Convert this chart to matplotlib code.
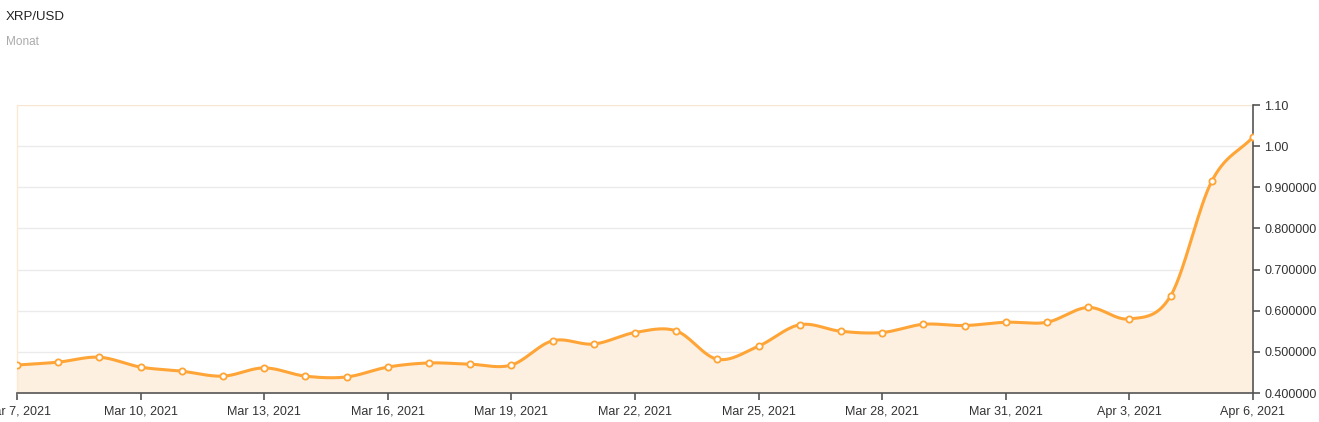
import numpy as np
import matplotlib
matplotlib.use("Agg")
import matplotlib.pyplot as plt
import datetime as dt

plt.rcParams['font.family'] = ['Liberation Sans', 'DejaVu Sans']

start = dt.date(2021, 3, 7)
dates = [start + dt.timedelta(days=i) for i in range(31)]
prices = [0.468, 0.475, 0.487, 0.463, 0.453, 0.441, 0.461, 0.441, 0.439, 0.463,
          0.473, 0.470, 0.468, 0.527, 0.519, 0.547, 0.551, 0.482, 0.514, 0.566,
          0.550, 0.547, 0.567, 0.564, 0.572, 0.572, 0.608, 0.580, 0.636, 0.915,
          1.022]
y_ticks = [0.4, 0.5, 0.6, 0.7, 0.8, 0.9, 1.0, 1.1]
y_tick_labels = ["0.400000", "0.500000", "0.600000", "0.700000", "0.800000",
                 "0.900000", "1.00", "1.10"]
x_tick_step = 3

x = np.array([(d - start).days for d in dates], dtype=float)
y = np.array(prices)

def catmull_rom(xs, ys, n=30):
    px = np.concatenate([[2 * xs[0] - xs[1]], xs, [2 * xs[-1] - xs[-2]]])
    py = np.concatenate([[2 * ys[0] - ys[1]], ys, [2 * ys[-1] - ys[-2]]])
    ox, oy = [], []
    for i in range(1, len(px) - 2):
        t = np.linspace(0, 1, n, endpoint=False)
        for arr, out in ((px, ox), (py, oy)):
            p0, p1, p2, p3 = arr[i - 1], arr[i], arr[i + 1], arr[i + 2]
            out.extend(0.5 * ((2 * p1) + (-p0 + p2) * t +
                              (2 * p0 - 5 * p1 + 4 * p2 - p3) * t ** 2 +
                              (-p0 + 3 * p1 - 3 * p2 + p3) * t ** 3))
    ox.append(xs[-1]); oy.append(ys[-1])
    return np.array(ox), np.array(oy)

sx, sy = catmull_rom(x, y)

W, H = 1319, 422
fig = plt.figure(figsize=(W / 100, H / 100), dpi=100)
ax = fig.add_axes([17 / W, (H - 393) / H, (1253 - 17) / W, (393 - 105) / H])

line_color = '#ffa537'
ax.fill_between(sx, 0.4, sy, color='#fdf0e0', lw=0, zorder=1)
ax.plot(sx, sy, color=line_color, lw=2.2, zorder=3, solid_capstyle='round')
ax.plot(x, y, 'o', ms=4.5, mfc='white', mec=line_color, mew=1.3, zorder=4)

ax.set_xlim(x[0], x[-1])
ax.set_ylim(0.4, 1.1)

ax.yaxis.tick_right()
ax.set_yticks(y_ticks)
ax.set_yticklabels(y_tick_labels)
xt = x[::x_tick_step]
ax.set_xticks(xt)
ax.set_xticklabels([f"{d.strftime('%b')} {d.day}, {d.year}" for d in dates[::x_tick_step]])

for t in y_ticks[1:-1]:
    ax.axhline(t, color='#ebebeb', lw=1, zorder=0)
ax.axhline(1.1, color='#f7e6d0', lw=1, zorder=0)

for s in ['top']:
    ax.spines[s].set_visible(False)
ax.spines['left'].set_color('#fbe9d3')
ax.spines['left'].set_linewidth(1)
ax.spines['right'].set_color('#555555')
ax.spines['bottom'].set_color('#555555')
ax.spines['right'].set_linewidth(1.2)
ax.spines['bottom'].set_linewidth(1.2)
ax.tick_params(axis='both', colors='#555555', labelcolor='#333333',
               labelsize=9, length=5, width=1.2, direction='out')
ax.tick_params(axis='y', pad=3)
ax.tick_params(axis='x', pad=4)
ax.set_facecolor('white')

fig.text(6 / W, 1 - 17 / H, "XRP/USD", fontsize=9.5, color='#222222', va='center')
fig.text(6 / W, 1 - 42 / H, "Monat", fontsize=8.5, color='#aaaaaa', va='center')

fig.savefig("out.png", dpi=100)
